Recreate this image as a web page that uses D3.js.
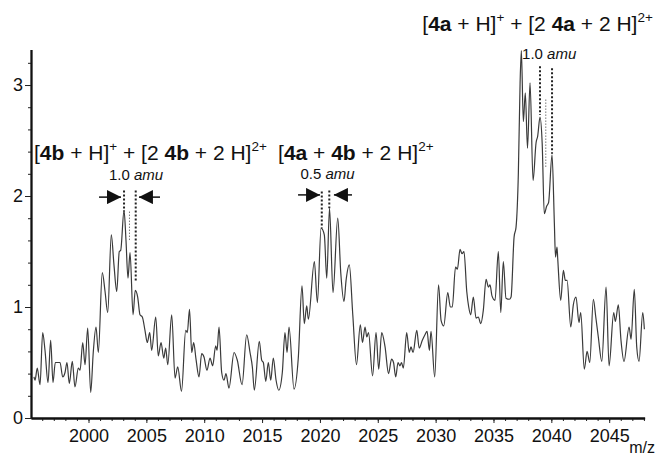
<!DOCTYPE html>
<html>
<head>
<meta charset="utf-8">
<script src="https://cdn.jsdelivr.net/npm/d3@7"></script>
<style>
  body { margin: 0; background: #fff; }
  text { font-family: "Liberation Sans", Arial, sans-serif; }
</style>
</head>
<body>
<div id="chart"></div>
<script>
// spectrum (m/z, intensity)
var mz = [1995.29,1995.38,1995.57,1995.81,1996.04,1996.24,1996.50,1996.73,1996.93,1997.13,
  1997.30,1997.54,1997.77,1997.97,1998.14,1998.34,1998.60,1998.83,1999.12,1999.27,
  1999.50,1999.70,1999.93,2000.19,2000.41,2000.65,2000.85,2001.19,2001.43,2001.66,
  2001.97,2002.20,2002.44,2002.66,2002.78,2003.07,2003.24,2003.41,2003.59,2003.85,
  2004.04,2004.25,2004.45,2004.65,2004.88,2005.08,2005.29,2005.46,2005.81,2006.03,
  2006.27,2006.50,2006.67,2006.85,2007.19,2007.48,2007.71,2008.04,2008.40,2008.54,
  2008.73,2008.92,2009.09,2009.29,2009.55,2009.78,2009.98,2010.24,2010.50,2010.73,
  2010.99,2011.11,2011.28,2011.51,2011.71,2011.88,2012.14,2012.58,2012.86,2013.27,
  2013.67,2013.96,2014.16,2014.33,2014.76,2014.97,2015.11,2015.32,2015.54,2015.75,
  2015.97,2016.21,2016.44,2016.75,2016.98,2017.16,2017.33,2017.76,2018.13,2018.45,
  2018.65,2018.86,2019.00,2019.52,2019.78,2020.10,2020.38,2020.59,2020.83,2021.13,
  2021.54,2021.80,2022.08,2022.26,2022.54,2022.84,2023.16,2023.49,2023.68,2023.90,
  2024.05,2024.20,2024.55,2024.85,2025.08,2025.34,2025.63,2025.93,2026.19,2026.36,
  2026.55,2026.75,2026.92,2027.05,2027.21,2027.50,2027.72,2027.87,2028.05,2028.37,
  2028.58,2028.85,2029.08,2029.26,2029.46,2029.60,2029.92,2030.25,2030.47,2030.70,
  2031.05,2031.27,2031.44,2031.72,2031.88,2032.11,2032.28,2032.45,2032.69,2032.86,
  2033.03,2033.26,2033.49,2033.69,2033.90,2034.12,2034.36,2034.56,2034.70,2034.87,
  2035.13,2035.42,2035.63,2035.85,2036.08,2036.37,2036.52,2036.78,2036.95,2037.15,
  2037.30,2037.41,2037.58,2037.75,2037.94,2038.16,2038.42,2038.68,2038.82,2039.02,
  2039.21,2039.39,2039.60,2039.76,2040.06,2040.26,2040.36,2040.49,2040.55,2040.81,
  2041.04,2041.21,2041.36,2041.68,2041.90,2042.13,2042.39,2042.54,2042.85,2043.09,
  2043.32,2043.63,2043.84,2044.06,2044.36,2044.73,2044.99,2045.39,2045.53,2045.79,
  2046.02,2046.28,2046.72,2046.89,2047.17,2047.38,2047.58,2047.90,2048.04];

var intensity = [0.37,0.34,0.45,0.30,0.77,0.61,0.32,0.70,0.32,0.50,
  0.50,0.50,0.37,0.41,0.50,0.31,0.51,0.28,0.45,0.43,
  0.68,0.48,0.81,0.23,0.59,0.82,0.59,1.31,1.14,0.95,
  1.65,1.38,1.14,1.50,1.51,1.87,1.60,1.26,1.49,0.93,
  1.15,1.09,0.93,0.91,0.79,0.68,0.77,0.61,0.91,0.56,
  0.68,0.54,0.63,0.48,0.93,0.36,0.46,0.24,0.79,0.77,
  0.98,0.59,0.68,0.53,0.37,0.58,0.55,0.43,0.54,0.47,
  0.65,0.61,0.82,0.41,0.34,0.40,0.27,0.59,0.52,0.30,
  0.75,0.59,0.46,0.25,0.69,0.52,0.50,0.33,0.50,0.34,
  0.54,0.34,0.25,0.41,0.77,0.59,0.82,0.26,0.54,1.19,
  0.85,1.01,0.89,1.41,1.04,1.71,1.65,1.26,1.89,1.13,
  1.80,1.31,1.05,1.24,1.38,0.93,0.48,0.84,0.68,0.82,
  0.73,0.77,0.38,0.77,0.44,0.77,0.64,0.40,0.53,0.50,
  0.37,0.50,0.47,0.50,0.45,0.77,0.59,0.64,0.59,0.79,
  0.63,0.70,0.75,0.78,0.61,0.78,0.37,1.20,0.88,0.83,
  1.13,1.00,1.00,1.36,1.34,1.52,1.48,1.50,1.14,1.00,
  0.93,1.09,0.90,0.91,0.85,0.97,1.25,1.18,1.20,1.10,
  1.06,1.50,0.95,1.41,1.08,1.07,1.09,1.63,1.72,2.21,
  3.02,3.31,2.67,2.93,2.43,3.02,2.14,2.48,2.54,2.71,
  2.47,1.84,1.91,1.94,2.37,1.76,1.45,1.54,1.44,1.06,
  1.33,1.24,1.24,0.82,1.02,1.09,0.86,0.95,0.44,0.60,
  0.50,1.07,0.91,0.73,0.51,1.18,0.47,0.95,0.87,1.02,
  0.70,0.51,0.82,0.71,1.16,0.64,0.51,0.95,0.80];

var xTicks = [2000, 2005, 2010, 2015, 2020, 2025, 2030, 2035, 2040, 2045];
var xMinorTicks = d3.range(1996, 2049, 1);
var yTicks = [0, 1, 2, 3];
var yMinorTicks = d3.range(0, 3.3, 0.2);

// peak labels: text pieces [text, style]
var labels = [
  { mz: 1995.29, y: 2.32, parts: [["[", ""], ["4b", "b"], [" + H]", ""], ["+", "sup"], [" + [2 ", ""], ["4b", "b"], [" + 2 H]", ""], ["2+", "sup"]] },
  { mz: 2016.38, y: 2.32, parts: [["[", ""], ["4a", "b"], [" + ", ""], ["4b", "b"], [" + 2 H]", ""], ["2+", "sup"]] },
  { mz: 2028.85, y: 3.49, parts: [["[", ""], ["4a", "b"], [" + H]", ""], ["+", "sup"], [" + [2 ", ""], ["4a", "b"], [" + 2 H]", ""], ["2+", "sup"]] }
];
var spacingLabels = [
  { mz: 2004.11, y: 2.14, num: "1.0 ", anchor: "middle" },
  { mz: 2020.66, y: 2.15, num: "0.5 ", anchor: "middle" },
  { mz: 2037.47, y: 3.23, num: "1.0 ", anchor: "start" }
];
// arrows: from -> to (tip)
var arrows = [
  { x1: 2000.91, x2: 2002.81, y: 1.99 },
  { x1: 2006.18, x2: 2004.36, y: 1.99 },
  { x1: 2018.11, x2: 2020.01, y: 2.01 },
  { x1: 2022.77, x2: 2021.21, y: 2.01 }
];
// dotted markers at isotope peaks
var markers = [
  { mz: 2003.07, y1: 2.05, y2: 1.86, light: false },
  { mz: 2004.08, y1: 2.05, y2: 1.22, light: false },
  { mz: 2003.54, y1: 1.86, y2: 1.59, light: true },
  { mz: 2020.16, y1: 2.04, y2: 1.71, light: false },
  { mz: 2020.81, y1: 2.05, y2: 1.89, light: false },
  { mz: 2039.02, y1: 3.17, y2: 2.73, light: false },
  { mz: 2040.06, y1: 3.15, y2: 2.38, light: false },
  { mz: 2039.52, y1: 2.87, y2: 2.26, light: true }
];

var width = 657, height = 459;

var svg = d3.select("#chart").append("svg")
  .attr("width", width)
  .attr("height", height);

var x = d3.scaleLinear().domain([1995.03, 2048.06]).range([31, 644.6]);
var y = d3.scaleLinear().domain([0, 3.32]).range([418, 49.5]);

var data = mz.map(function(m, i){ return { mz: m, v: intensity[i] }; });

// spectrum trace
var line = d3.line()
  .x(function(d){ return x(d.mz); })
  .y(function(d){ return y(d.v); })
  .curve(d3.curveMonotoneX);

svg.append("path")
  .datum(data)
  .attr("d", line)
  .attr("fill", "none")
  .attr("stroke", "#3a3a3a")
  .attr("stroke-width", 1.2);

// x axis
var xMinorAxis = svg.append("g")
  .attr("transform", "translate(0,418)")
  .call(d3.axisBottom(x).tickValues(xMinorTicks).tickSize(3).tickFormat("").tickSizeOuter(0));
var xAxis = svg.append("g")
  .attr("transform", "translate(0,418)")
  .call(d3.axisBottom(x).tickValues(xTicks).tickSize(5).tickPadding(6).tickFormat(d3.format("d")).tickSizeOuter(0));

// y axis
var yMinorAxis = svg.append("g")
  .attr("transform", "translate(31,0)")
  .call(d3.axisLeft(y).tickValues(yMinorTicks).tickSize(3).tickFormat("").tickSizeOuter(0));
var yAxis = svg.append("g")
  .attr("transform", "translate(31,0)")
  .call(d3.axisLeft(y).tickValues(yTicks).tickSize(6).tickPadding(2).tickFormat(d3.format("d")).tickSizeOuter(0));

[xMinorAxis, xAxis, yMinorAxis, yAxis].forEach(function(g){
  g.selectAll(".domain").attr("stroke", "#111").attr("stroke-width", 1.8);
  g.selectAll(".tick line").attr("stroke", "#222").attr("stroke-width", 1);
  g.selectAll("text")
    .attr("fill", "#111")
    .style("font-size", "18px")
    .style("font-family", "'Liberation Sans', Arial, sans-serif");
});

svg.append("text")
  .attr("x", 655)
  .attr("y", 453)
  .attr("text-anchor", "end")
  .style("font-size", "16px")
  .attr("fill", "#111")
  .text("m/z");

// dotted isotope markers
svg.selectAll(".marker")
  .data(markers)
  .join("line")
  .attr("class", "marker")
  .attr("x1", function(d){ return x(d.mz); })
  .attr("x2", function(d){ return x(d.mz); })
  .attr("y1", function(d){ return y(d.y1); })
  .attr("y2", function(d){ return y(d.y2); })
  .attr("stroke", function(d){ return d.light ? "#777" : "#222"; })
  .attr("stroke-width", function(d){ return d.light ? 1 : 2; })
  .attr("stroke-dasharray", function(d){ return d.light ? "1.5,1.5" : "2,2"; });

// arrows
svg.append("defs").append("marker")
  .attr("id", "head")
  .attr("viewBox", "0 0 10 10")
  .attr("refX", 10)
  .attr("refY", 5)
  .attr("markerUnits", "userSpaceOnUse")
  .attr("markerWidth", 14)
  .attr("markerHeight", 14)
  .attr("orient", "auto")
  .append("path")
  .attr("d", "M0,0L10,5L0,10Z")
  .attr("fill", "#111");

svg.selectAll(".arrow")
  .data(arrows)
  .join("line")
  .attr("class", "arrow")
  .attr("x1", function(d){ return x(d.x1); })
  .attr("x2", function(d){ return x(d.x2); })
  .attr("y1", function(d){ return y(d.y); })
  .attr("y2", function(d){ return y(d.y); })
  .attr("stroke", "#111")
  .attr("stroke-width", 1.5)
  .attr("marker-end", "url(#head)");

// peak labels with bold compound numbers and superscript charges
labels.forEach(function(l){
  var t = svg.append("text")
    .attr("x", x(l.mz))
    .attr("y", y(l.y))
    .style("font-size", "21px")
    .attr("fill", "#111");
  var raised = false;
  l.parts.forEach(function(p){
    var s = t.append("tspan").text(p[0]);
    if (p[1] === "b") s.style("font-weight", "bold");
    if (p[1] === "sup") {
      s.style("font-size", "13.5px").attr("dy", -9);
      raised = true;
    } else if (raised) {
      s.attr("dy", 9);
      raised = false;
    }
  });
});

spacingLabels.forEach(function(l){
  var t = svg.append("text")
    .attr("x", x(l.mz))
    .attr("y", y(l.y))
    .attr("text-anchor", l.anchor)
    .style("font-size", "15px")
    .attr("fill", "#111");
  t.append("tspan").text(l.num);
  t.append("tspan").style("font-style", "italic").text("amu");
});
</script>
</body>
</html>
